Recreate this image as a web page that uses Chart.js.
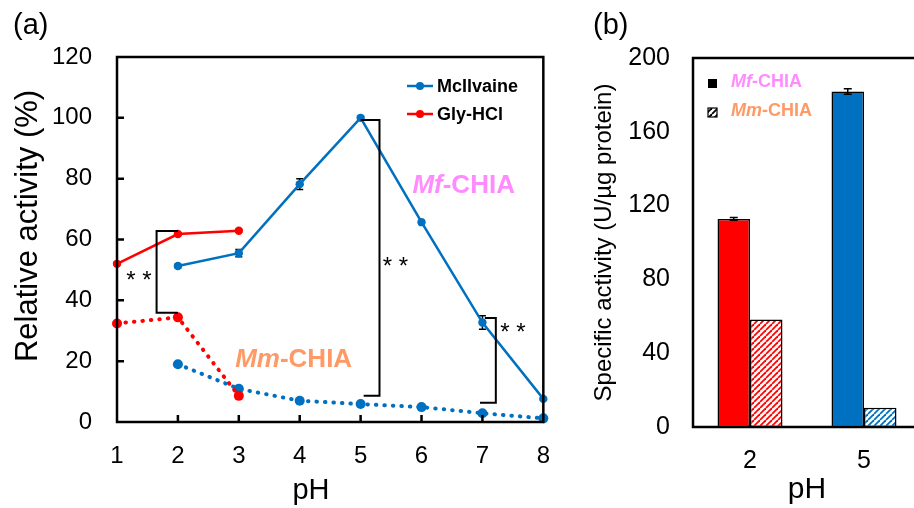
<!DOCTYPE html>
<html>
<head>
<meta charset="utf-8">
<script src="https://cdn.jsdelivr.net/npm/chart.js@4.4.1/dist/chart.umd.min.js"></script>
<style>
html, body { margin: 0; padding: 0; overflow: hidden; background: #fff; width: 914px; height: 508px; }
#wrapA { position: absolute; left: 0; top: 0; width: 570px; height: 508px; }
#wrapB { position: absolute; left: 580px; top: 0; width: 360px; height: 508px; }
.panel { position: absolute; top: 10px; font: 29px "Liberation Sans", Arial, sans-serif; line-height: 29px; color: #000; }
</style>
</head>
<body>
<div id="wrapA"><canvas id="chartA" width="570" height="508"></canvas></div>
<div id="wrapB"><canvas id="chartB" width="360" height="508"></canvas></div>
<div class="panel" style="left:13px">(a)</div>
<div class="panel" style="left:593px">(b)</div>
<script>
// panel (a): relative activity vs pH
const phGly = [1, 2, 3];
const phMc = [2, 3, 4, 5, 6, 7, 8];
const mfGly = [52, 61.8, 62.9];
const mfGlyErr = [0.4, 0.5, 0.4];
const mfMc = [51.3, 55.5, 78.2, 100, 65.7, 32.7, 7.6];
const mfMcErr = [0.6, 1.2, 1.8, 0.4, 0.5, 2.2, 0.4];
const mmGly = [32.4, 34.4, 8.6];
const mmMc = [19, 10.9, 7.0, 5.9, 4.9, 2.9, 1.2];

// panel (b): specific activity
const barLabels = ['2', '5'];
const mfSpecific = [112.8, 181.8];
const mfSpecificErr = [0.8, 1.5];
const mmSpecific = [58.2, 10.4];

const BLUE = '#0070C0';
const RED = '#FF0000';
const PINK = '#FF8CFF';
const ORANGE = '#FF9966';
const FONT = '"Liberation Sans", Arial, sans-serif';

function pts(xs, ys) {
    return xs.map((x, i) => ({ x: x, y: ys[i] }));
}

function hatch(color) {
    const s = 6;
    const c = document.createElement('canvas');
    c.width = s; c.height = s;
    const g = c.getContext('2d');
    g.fillStyle = '#fff';
    g.fillRect(0, 0, s, s);
    g.strokeStyle = color;
    g.lineWidth = 1.8;
    [-s, 0, s].forEach(x0 => {
        g.beginPath();
        g.moveTo(x0, s);
        g.lineTo(x0 + s, 0);
        g.stroke();
    });
    return g.createPattern(c, 'repeat');
}

// text with an italic prefix, e.g. "Mf" + "-CHIA"
function mixedText(ctx, italic, rest, x, y, size, color) {
    ctx.fillStyle = color;
    ctx.textBaseline = 'middle';
    ctx.textAlign = 'left';
    ctx.font = 'italic bold ' + size + 'px ' + FONT;
    ctx.fillText(italic, x, y);
    const w = ctx.measureText(italic).width;
    ctx.font = 'bold ' + size + 'px ' + FONT;
    ctx.fillText(rest, x + w, y);
}

function errBar(ctx, px, top, bottom, cap) {
    ctx.beginPath();
    ctx.moveTo(px, top); ctx.lineTo(px, bottom);
    ctx.moveTo(px - cap, top); ctx.lineTo(px + cap, top);
    ctx.moveTo(px - cap, bottom); ctx.lineTo(px + cap, bottom);
    ctx.stroke();
}

const overlayA = {
    id: 'overlayA',
    beforeDatasetsDraw(chart) {
        const { ctx, scales: { x, y } } = chart;
        ctx.save();
        ctx.strokeStyle = '#000';
        ctx.lineWidth = 1.5;
        phGly.forEach((p, i) => errBar(ctx, x.getPixelForValue(p), y.getPixelForValue(mfGly[i] + mfGlyErr[i]), y.getPixelForValue(mfGly[i] - mfGlyErr[i]), 3.5));
        phMc.forEach((p, i) => errBar(ctx, x.getPixelForValue(p), y.getPixelForValue(mfMc[i] + mfMcErr[i]), y.getPixelForValue(mfMc[i] - mfMcErr[i]), 3.5));
        ctx.restore();
    },
    afterDatasetsDraw(chart) {
        const { ctx, chartArea: a, scales: { x, y } } = chart;
        ctx.save();
        ctx.strokeStyle = '#000';
        ctx.lineWidth = 2.5;
        ctx.strokeRect(a.left, a.top, a.right - a.left, a.bottom - a.top);

        // inward ticks
        ctx.beginPath();
        for (let p = 2; p <= 7; p++) {
            const px = x.getPixelForValue(p);
            ctx.moveTo(px, a.bottom); ctx.lineTo(px, a.bottom - 7);
        }
        for (let v = 20; v <= 100; v += 20) {
            const py = y.getPixelForValue(v);
            ctx.moveTo(a.left, py); ctx.lineTo(a.left + 7, py);
        }
        ctx.stroke();

        // axis titles
        ctx.fillStyle = '#000';
        ctx.textAlign = 'center';
        ctx.textBaseline = 'middle';
        ctx.font = '29px ' + FONT;
        ctx.fillText('pH', 311, 491);
        ctx.save();
        ctx.translate(28, 226);
        ctx.rotate(-Math.PI / 2);
        ctx.font = '31px ' + FONT;
        ctx.fillText('Relative activity (%)', 0, 0);
        ctx.restore();

        // significance brackets
        ctx.lineWidth = 2;
        const brackets = [
            { x: 1.65, x1: 2, x2: 2, top: 62.8, bottom: 35.9, sx: 1.36, sy: 47.5 },
            { x: 5.31, x1: 5, x2: 5.05, top: 99.3, bottom: 8.6, sx: 5.57, sy: 52 },
            { x: 7.22, x1: 7.04, x2: 6.96, top: 34.2, bottom: 6.3, sx: 7.5, sy: 30.3 }
        ];
        ctx.font = '24px ' + FONT;
        brackets.forEach(b => {
            const bx = x.getPixelForValue(b.x);
            ctx.beginPath();
            ctx.moveTo(x.getPixelForValue(b.x1), y.getPixelForValue(b.top));
            ctx.lineTo(bx, y.getPixelForValue(b.top));
            ctx.lineTo(bx, y.getPixelForValue(b.bottom));
            ctx.lineTo(x.getPixelForValue(b.x2), y.getPixelForValue(b.bottom));
            ctx.stroke();
            ctx.fillText('* *', x.getPixelForValue(b.sx), y.getPixelForValue(b.sy) + 4);
        });

        // enzyme labels
        mixedText(ctx, 'Mf', '-CHIA', x.getPixelForValue(5.85), y.getPixelForValue(77.6), 26, PINK);
        mixedText(ctx, 'Mm', '-CHIA', x.getPixelForValue(2.94), y.getPixelForValue(20.4), 26, ORANGE);

        // legend
        const rows = [['McIlvaine', BLUE], ['Gly-HCl', RED]];
        rows.forEach((r, i) => {
            const ly = a.top + 29 + i * 28;
            const lx = a.left + 290;
            ctx.strokeStyle = r[1];
            ctx.lineWidth = 2.5;
            ctx.beginPath();
            ctx.moveTo(lx, ly); ctx.lineTo(lx + 26, ly);
            ctx.stroke();
            ctx.fillStyle = r[1];
            ctx.beginPath();
            ctx.arc(lx + 13, ly, 4, 0, Math.PI * 2);
            ctx.fill();
            ctx.fillStyle = '#000';
            ctx.font = 'bold 18px ' + FONT;
            ctx.textAlign = 'left';
            ctx.fillText(r[0], lx + 30, ly + 1);
        });
        ctx.restore();
    }
};

const solid = { borderWidth: 2.5, pointRadius: 4.2, pointHoverRadius: 4.2, pointBorderWidth: 0, clip: false };
const dotted = { borderWidth: 4, borderDash: [0.5, 8], borderCapStyle: 'round', pointRadius: 5, pointHoverRadius: 5, pointBorderWidth: 0, clip: false };

new Chart(document.getElementById('chartA'), {
    type: 'line',
    data: {
        datasets: [
            Object.assign({ label: 'Mm Gly-HCl', data: pts(phGly, mmGly), borderColor: RED, backgroundColor: RED }, dotted),
            Object.assign({ label: 'Mm McIlvaine', data: pts(phMc, mmMc), borderColor: BLUE, backgroundColor: BLUE }, dotted),
            Object.assign({ label: 'Gly-HCl', data: pts(phGly, mfGly), borderColor: RED, backgroundColor: RED }, solid),
            Object.assign({ label: 'McIlvaine', data: pts(phMc, mfMc), borderColor: BLUE, backgroundColor: BLUE }, solid)
        ]
    },
    options: {
        responsive: false,
        animation: false,
        layout: { padding: { top: 57, right: 23, left: 0, bottom: 0 } },
        plugins: { legend: { display: false }, tooltip: { enabled: false } },
        scales: {
            x: {
                type: 'linear', min: 1, max: 8,
                grid: { display: false, drawTicks: false },
                border: { display: false },
                ticks: { stepSize: 1, color: '#000', padding: 20, font: { family: FONT, size: 24 } },
                afterFit: s => { s.height = 86; }
            },
            y: {
                min: 0, max: 120,
                grid: { display: false, drawTicks: false },
                border: { display: false },
                ticks: { stepSize: 20, color: '#000', padding: 25, font: { family: FONT, size: 24 } },
                afterFit: s => { s.width = 117; }
            }
        }
    },
    plugins: [overlayA]
});

const overlayB = {
    id: 'overlayB',
    afterDatasetsDraw(chart) {
        const { ctx, chartArea: a, scales: { y } } = chart;
        ctx.save();
        ctx.strokeStyle = '#000';
        ctx.lineWidth = 2.5;
        ctx.beginPath();
        ctx.moveTo(chart.width, a.top);
        ctx.lineTo(a.left, a.top);
        ctx.lineTo(a.left, a.bottom);
        ctx.lineTo(chart.width, a.bottom);
        ctx.stroke();

        // error bars on Mf bars
        ctx.lineWidth = 1.5;
        chart.getDatasetMeta(0).data.forEach((bar, i) => {
            errBar(ctx, bar.x, y.getPixelForValue(mfSpecific[i] + mfSpecificErr[i]), y.getPixelForValue(mfSpecific[i] - mfSpecificErr[i]), 4);
        });

        // legend
        const lx = a.left + 15;
        ctx.fillStyle = '#000';
        ctx.fillRect(lx, a.top + 21, 9, 9);
        ctx.fillStyle = hatch('#000');
        ctx.fillRect(lx, a.top + 50, 9, 9);
        ctx.lineWidth = 1.2;
        ctx.strokeRect(lx, a.top + 50, 9, 9);
        mixedText(ctx, 'Mf', '-CHIA', lx + 23, a.top + 24, 18, PINK);
        mixedText(ctx, 'Mm', '-CHIA', lx + 23, a.top + 53, 18, ORANGE);
        ctx.restore();
    }
};

const barColors = [RED, BLUE];

new Chart(document.getElementById('chartB'), {
    type: 'bar',
    data: {
        labels: barLabels,
        datasets: [
            { label: 'Mf-CHIA', data: mfSpecific, backgroundColor: barColors, borderColor: '#000', borderWidth: 1.5, borderSkipped: false },
            { label: 'Mm-CHIA', data: mmSpecific, backgroundColor: barColors.map(hatch), borderColor: '#000', borderWidth: 1.5, borderSkipped: false }
        ]
    },
    options: {
        responsive: false,
        animation: false,
        layout: { padding: { top: 58, right: 19, left: 0, bottom: 0 } },
        plugins: { legend: { display: false }, tooltip: { enabled: false } },
        datasets: { bar: { categoryPercentage: 0.57, barPercentage: 1 } },
        scales: {
            x: {
                grid: { display: false, drawTicks: false },
                border: { display: false },
                ticks: { color: '#000', padding: 19, font: { family: FONT, size: 25 } },
                title: { display: true, text: 'pH', color: '#000', padding: { top: 0, bottom: 0 }, font: { family: FONT, size: 30 } },
                afterFit: s => { s.height = 81; }
            },
            y: {
                min: 0, max: 200,
                grid: { display: false, drawTicks: false },
                border: { display: false },
                ticks: { stepSize: 40, color: '#000', padding: 23, font: { family: FONT, size: 25 } },
                title: { display: true, text: 'Specific activity (U/µg protein)', color: '#000', padding: { top: 10, bottom: 0 }, font: { family: FONT, size: 24 } },
                afterFit: s => { s.width = 113; }
            }
        }
    },
    plugins: [overlayB]
});
</script>
</body>
</html>
